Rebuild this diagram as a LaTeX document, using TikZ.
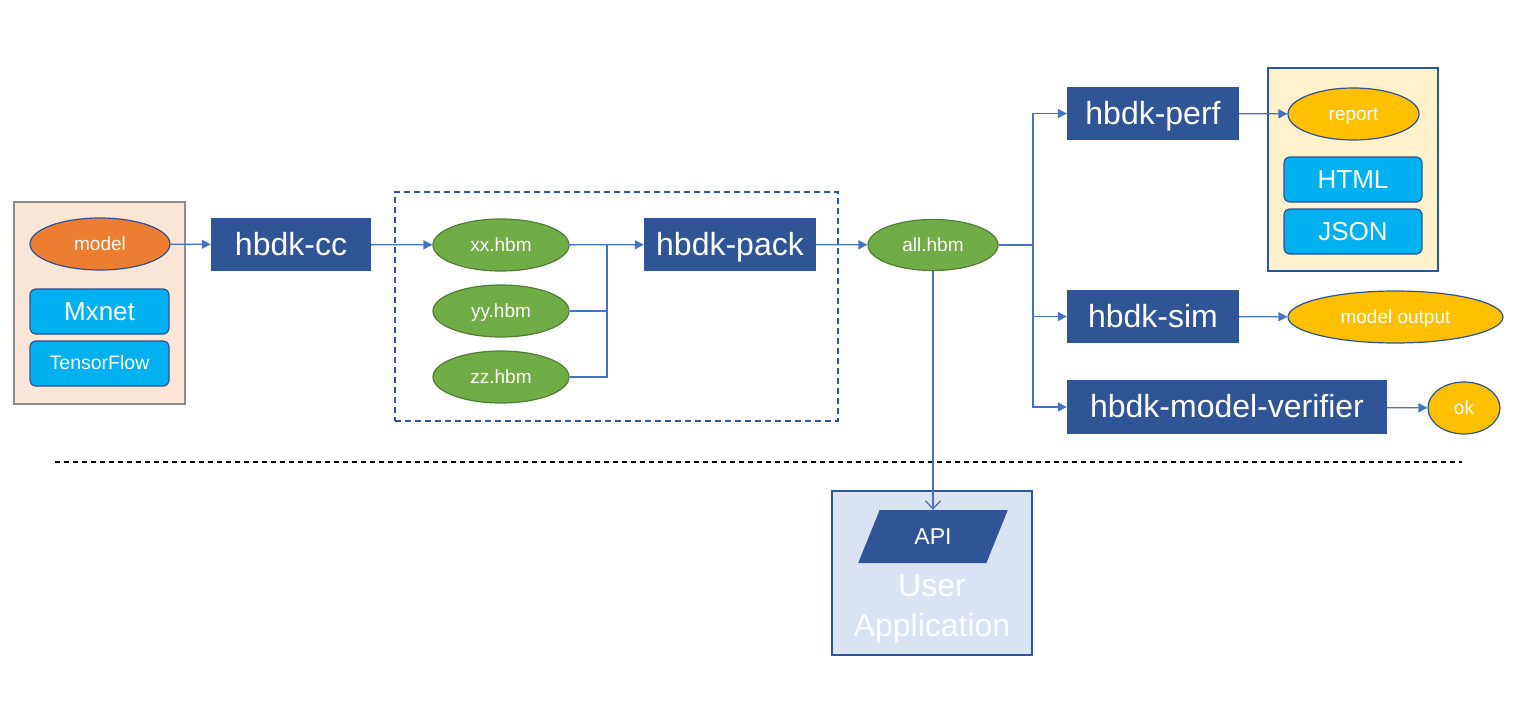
\documentclass[tikz,border=0pt]{standalone}
\usepackage{fontspec}
\setmainfont{Liberation Sans}
\usetikzlibrary{shapes.geometric,arrows.meta}
\definecolor{dblue}{HTML}{2F5597}
\definecolor{edgeb}{HTML}{2F528F}
\definecolor{arr}{HTML}{4472C4}
\definecolor{peach}{HTML}{FBE5D6}
\definecolor{grayb}{HTML}{8C8C8C}
\definecolor{orng}{HTML}{ED7D31}
\definecolor{cyanb}{HTML}{00B0F0}
\definecolor{grn}{HTML}{70AD47}
\definecolor{grnb}{HTML}{507E32}
\definecolor{yel}{HTML}{FFC000}
\definecolor{paleyel}{HTML}{FFF2CC}
\definecolor{paleblue}{HTML}{DAE3F3}
\newcommand{\fsz}[1]{\fontsize{#1}{#1}\selectfont}
\tikzset{
  tool/.style={fill=dblue, text=white, minimum height=53pt, inner sep=0pt, font=\fsz{32}, text height=25.6pt, text depth=4.5pt},
  ell/.style={ellipse, line width=1.2pt, inner sep=0pt, text=white, font=\fsz{19}, text height=15.2pt, text depth=2.7pt},
  rbox/.style={rounded corners=6pt, fill=cyanb, draw=edgeb, line width=1.2pt, text=white, inner sep=0pt, minimum width=139pt, minimum height=45pt, font=\fsz{26}, text height=20.8pt, text depth=3.6pt},
  conn/.style={draw=arr, line width=1.3pt, -{Triangle[length=9pt,width=9pt]}},
  link/.style={draw=arr, line width=1.3pt}
}
\begin{document}
\begin{tikzpicture}[x=1pt,y=-1pt]
\useasboundingbox[fill=white] (0,0) rectangle (1518,720);
% left group
\node[draw=grayb, fill=peach, line width=1.2pt, minimum width=171pt, minimum height=202pt, inner sep=0pt] (src) at (99.5,303) {};
\node[ell, fill=orng, draw=edgeb, minimum width=140pt, minimum height=52pt] (model) at (100,244) {model};
\node[rbox] (mx) at (99.5,311.5) {Mxnet};
\node[rbox, font=\fsz{19.5}, text height=15.6pt, text depth=2.7pt] (tf) at (99.5,363.5) {TensorFlow};
\node[tool, minimum width=160pt] (cc) at (291,244.5) {hbdk-cc};
% dashed group
\node[draw=dblue, dashed, dash pattern=on 6pt off 4pt, line width=1.3pt, minimum width=443pt, minimum height=229pt, inner sep=0pt] (grp) at (616.5,306.5) {};
\node[ell, fill=grn, draw=grnb, minimum width=136pt, minimum height=52pt] (xx) at (501,245) {xx.hbm};
\node[ell, fill=grn, draw=grnb, minimum width=136pt, minimum height=52pt] (yy) at (501,311) {yy.hbm};
\node[ell, fill=grn, draw=grnb, minimum width=136pt, minimum height=52pt] (zz) at (501,377) {zz.hbm};
\node[tool, minimum width=172pt] (pack) at (730,244.5) {hbdk-pack};
\coordinate (jn) at (607,245);
\node[ell, fill=grn, draw=grnb, minimum width=130pt, minimum height=51pt] (all) at (933,245) {all.hbm};
\coordinate (fork) at (1033,245);
% right tools
\node[draw=dblue, fill=paleyel, line width=1.3pt, minimum width=170pt, minimum height=203pt, inner sep=0pt] (rep) at (1353,169.5) {};
\node[tool, minimum width=172pt] (perf) at (1153,113.5) {hbdk-perf};
\node[ell, fill=yel, draw=edgeb, minimum width=131pt, minimum height=52pt] (report) at (1353.5,114) {report};
\node[rbox, minimum width=138pt] (html) at (1353,179.5) {HTML};
\node[rbox, minimum width=138pt] (json) at (1353,231.5) {JSON};
\node[tool, minimum width=172pt] (sim) at (1153,316.5) {hbdk-sim};
\node[ell, fill=yel, draw=edgeb, minimum width=215pt, minimum height=52pt] (out) at (1395.5,317) {model output};
\node[tool, minimum width=320pt, minimum height=54pt] (ver) at (1227,407) {hbdk-model-verifier};
\node[ell, fill=yel, draw=edgeb, minimum width=72pt, minimum height=52pt] (ok) at (1464,408) {ok};
% separator
\coordinate (sepl) at (55,462);
\coordinate (sepr) at (1462,462);
\draw[black, line width=1.3pt, dash pattern=on 5pt off 4pt] (sepl) -- (sepr);
% user application
\node[draw=dblue, fill=paleblue, line width=1.3pt, minimum width=200pt, minimum height=164pt, inner sep=0pt] (app) at (932,573) {};
\node[trapezium, trapezium left angle=71, trapezium right angle=109, fill=dblue, text=white, inner sep=0pt, minimum width=150pt, minimum height=53pt, trapezium stretches=true, font=\fsz{23}, text height=18.4pt, text depth=3.2pt] (api) at (933,536.5) {API};
\node[text=white!90!paleblue, align=center, font=\fontsize{32}{40}\selectfont] (ua) at (932,609) {User\\Application};
% connectors
\draw[conn] (model) -- (cc);
\draw[conn] (cc) -- (xx);
\draw[conn] (xx) -- (pack);
\draw[link] (yy.east) -- (yy.east -| jn) -- (jn);
\draw[link] (zz.east) -- (zz.east -| jn) -- (yy.east -| jn);
\draw[conn] (pack) -- (all);
\draw[link] (all.east) -- (fork);
\draw[conn] (fork) |- (perf.west);
\draw[conn] (fork) |- (sim.west);
\draw[conn] (fork) |- (ver.west);
\draw[conn] (perf) -- (report);
\draw[conn] (sim) -- (out);
\draw[conn] (ver) -- (ok);
\draw[draw=arr, line width=1.3pt, -{Straight Barb[length=8pt,width=15pt]}] (all.south) -- (all.south |- api.north);
\end{tikzpicture}
\end{document}
